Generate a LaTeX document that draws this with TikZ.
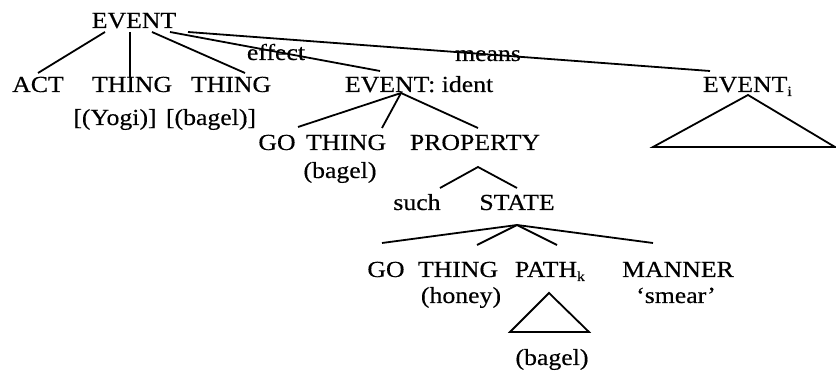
\documentclass[tikz,border=0pt]{standalone}
\usepackage{fontspec}
\setmainfont{Liberation Serif}[FakeStretch=1.12,FakeBold=0.4]
\newcommand\mysub[1]{\raisebox{-4pt}{\fontsize{14}{14}\selectfont #1}}
\begin{document}
\begin{tikzpicture}[x=1pt,y=-1pt,
  w/.style={inner sep=0pt, outer sep=0pt, anchor=base, font=\fontsize{23}{27}\selectfont},
  ln/.style={line width=1.8pt}]
\useasboundingbox (0,0) rectangle (836,371);
% nodes
\node[w] (ev0) at (134,28) {EVENT};
\node[w] (act) at (38,92) {ACT};
\node[w] (th1) at (132,92) {THING};
\node[w] (th2) at (231,92) {THING};
\node[w] (yogi) at (115,125) {[(Yogi)]};
\node[w, anchor=base west] (bag1) at (166,125) {[(bagel)]};
\node[w, anchor=base west] (ev1) at (345,92) {EVENT: ident};
\node[w, anchor=base west] (evi) at (703,92) {EVENT\mysub{i}};
\node[w] (eff) at (276,60) {effect};
\node[w] (mea) at (488,61) {means};
\node[w] (go1) at (277,150) {GO};
\node[w] (th3) at (346,150) {THING};
\node[w] (prop) at (475,150) {PROPERTY};
\node[w] (bag2) at (340,178) {(bagel)};
\node[w] (such) at (417,210) {such};
\node[w] (state) at (517,210) {STATE};
\node[w] (go2) at (386,277) {GO};
\node[w] (th4) at (458,277) {THING};
\node[w, anchor=base west] (path) at (515,277) {PATH\mysub{k}};
\node[w] (man) at (678,277) {MANNER};
\node[w] (honey) at (461,303) {(honey)};
\node[w] (smear) at (676,303) {‘smear’};
\node[w] (bag3) at (552,365) {(bagel)};
% connectors from top EVENT
\draw[ln] ([shift={(-29,4)}]ev0.base) -- ([shift={(0,-19)}]act.base);
\draw[ln] ([shift={(-4,4)}]ev0.base) -- ([shift={(-2,-15)}]th1.base);
\draw[ln] ([shift={(18,4)}]ev0.base) -- ([shift={(14,-19)}]th2.base);
\draw[ln] ([shift={(36,4)}]ev0.base) -- ([shift={(35,-21)}]ev1.base west);
\draw[ln] ([shift={(54,4)}]ev0.base) -- ([shift={(7,-21)}]evi.base west);
% EVENT: ident
\draw[ln] ([shift={(21,-23)}]go1.base) -- ([shift={(56,1)}]ev1.base west)
  -- ([shift={(36,-22)}]th3.base);
\draw[ln] ([shift={(56,1)}]ev1.base west) -- ([shift={(3,-22)}]prop.base);
% PROPERTY
\draw[ln] ([shift={(23,-22)}]such.base) -- ([shift={(3,17)}]prop.base)
  -- ([shift={(0,-22)}]state.base);
% STATE
\draw[ln] ([shift={(-4,-34)}]go2.base) -- ([shift={(0,15)}]state.base)
  -- ([shift={(-25,-34)}]man.base);
\draw[ln] ([shift={(19,-32)}]th4.base) -- ([shift={(0,15)}]state.base)
  -- ([shift={(42,-32)}]path.base west);
% triangles
\draw[ln, line join=miter] ([shift={(45,3)}]evi.base west) -- (835,147) -- (653,147) -- cycle;
\draw[ln, line join=miter] ([shift={(34,16)}]path.base west) -- (589,332) -- (510,332) -- cycle;
\end{tikzpicture}
\end{document}
